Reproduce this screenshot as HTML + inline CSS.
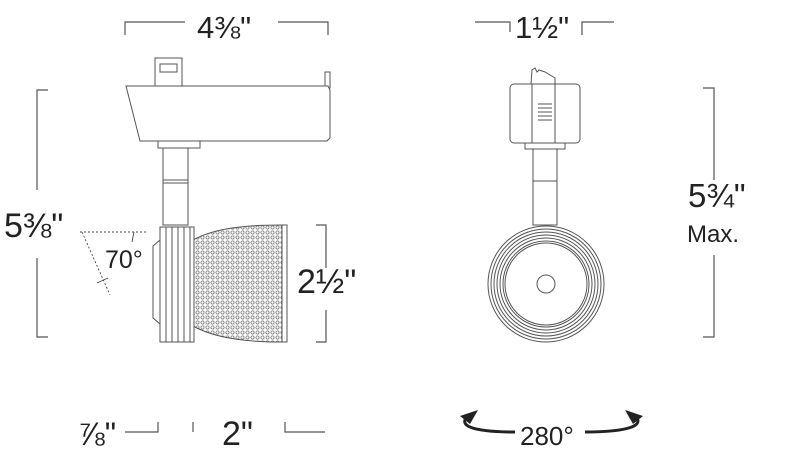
<!DOCTYPE html>
<html><head><meta charset="utf-8"><style>
html,body{margin:0;padding:0;background:#fff;width:800px;height:463px;overflow:hidden}
text{font-family:"Liberation Sans",sans-serif;fill:#222}
</style></head><body>
<svg width="800" height="463" viewBox="0 0 800 463" xmlns="http://www.w3.org/2000/svg">
<defs>
<pattern id="perf" width="5" height="5" patternUnits="userSpaceOnUse">
<rect width="5" height="5" fill="#fff"/>
<circle cx="2.5" cy="2.5" r="1.6" fill="none" stroke="#777" stroke-width="0.8"/>
</pattern>
</defs>
<g fill="none" stroke="#555" stroke-width="1.2">
<polyline points="125,35 125,22 185,22"/>
<polyline points="278,22 328,22 328,35"/>
<polyline points="475,22 510,22 510,32"/>
<polyline points="582,35 582,22 614,22"/>
<polyline points="48,90 37,90 37,190"/>
<polyline points="37,258 37,337 48,337"/>
<polyline points="703,88 714,88 714,180"/>
<polyline points="714,255 714,337 703,337"/>
<polyline points="316,225 326,225 326,268"/>
<polyline points="326,310 326,342 316,342"/>
<polyline points="125,432 158,432 158,422"/>
<line x1="193" y1="422" x2="193" y2="432"/>
<polyline points="285,422 285,432 325,432"/>
</g>
<text x="197" y="38" font-size="31">4⅜"</text>
<text x="515" y="38" font-size="31">1½"</text>
<text x="4" y="237" font-size="34">5⅜"</text>
<text x="688" y="207" font-size="33">5¾"</text>
<text x="687" y="242" font-size="24">Max.</text>
<text x="297" y="293" font-size="34">2½"</text>
<text x="105" y="268" font-size="25">70°</text>
<text x="78" y="445" font-size="32">⅞"</text>
<text x="222" y="445" font-size="34">2"</text>
<text x="520" y="445" font-size="26">280°</text>
<g stroke="#444" stroke-width="0.9" stroke-dasharray="2,2" fill="none">
<line x1="80" y1="232" x2="148" y2="232"/>
<line x1="82" y1="232" x2="110" y2="295"/>
</g>
<line x1="134" y1="232" x2="132" y2="242" stroke="#444" stroke-width="0.9"/>
<line x1="97" y1="283" x2="108" y2="278" stroke="#444" stroke-width="0.9"/>
<g fill="none" stroke="#222" stroke-width="3">
<path d="M515,432 C470,432 458,425 468,416"/>
<path d="M585,432 C630,432 645,425 635,416"/>
</g>
<polygon points="460,416 478,410 470,424" fill="#222"/>
<polygon points="643,416 625,410 633,424" fill="#222"/>
<g stroke="#555" stroke-width="1" fill="#fff">
<rect x="155" y="58" width="27" height="28"/>
<rect x="160" y="64" width="17" height="8"/>
<rect x="325" y="72" width="5" height="16"/>
<polygon points="126,86 328,86 330,90 330,138 327,141 140,141"/>
<rect x="158" y="141" width="42" height="7"/>
<rect x="163" y="148" width="25" height="77"/>
<line x1="163" y1="180" x2="188" y2="180"/>
<line x1="163" y1="183" x2="188" y2="183"/>
<polygon points="160,240 153,246 153,318 160,324"/>
<path d="M193,240 C215,228 245,225 282,225 L282,342 C245,342 215,338 193,326 Z" fill="url(#perf)"/>
<rect x="282" y="225" width="5" height="117"/>
<rect x="160" y="227" width="6" height="115"/>
<rect x="166" y="227" width="6" height="115"/>
<rect x="172" y="227" width="6" height="115"/>
<rect x="178" y="227" width="6" height="115"/>
<rect x="184" y="227" width="6" height="115"/>
<rect x="190" y="227" width="4" height="115"/>
</g>
<g stroke="#555" stroke-width="1" fill="#fff">
<rect x="510" y="84" width="70" height="59" rx="4"/>
<polygon points="531,84 532,70 535,68 537,72 539,70 545,72 555,78 555,84"/>
<rect x="532" y="84" width="23" height="59"/>
<line x1="538" y1="104" x2="552" y2="104"/>
<line x1="538" y1="108" x2="552" y2="108"/>
<line x1="538" y1="112" x2="552" y2="112"/>
<line x1="538" y1="116" x2="552" y2="116"/>
<line x1="538" y1="120" x2="552" y2="120"/>
<rect x="525" y="143" width="40" height="6"/>
<rect x="533" y="149" width="24" height="76"/>
<line x1="533" y1="181" x2="557" y2="181"/>
<circle cx="546" cy="284" r="58"/>
<circle cx="546" cy="284" r="55"/>
<circle cx="546" cy="284" r="52"/>
<circle cx="546" cy="284" r="49"/>
<circle cx="546" cy="284" r="46"/>
<circle cx="546" cy="284" r="43"/>
<circle cx="546" cy="284" r="41"/>
<circle cx="546" cy="284" r="9"/>
</g>
</svg>
</body></html>
